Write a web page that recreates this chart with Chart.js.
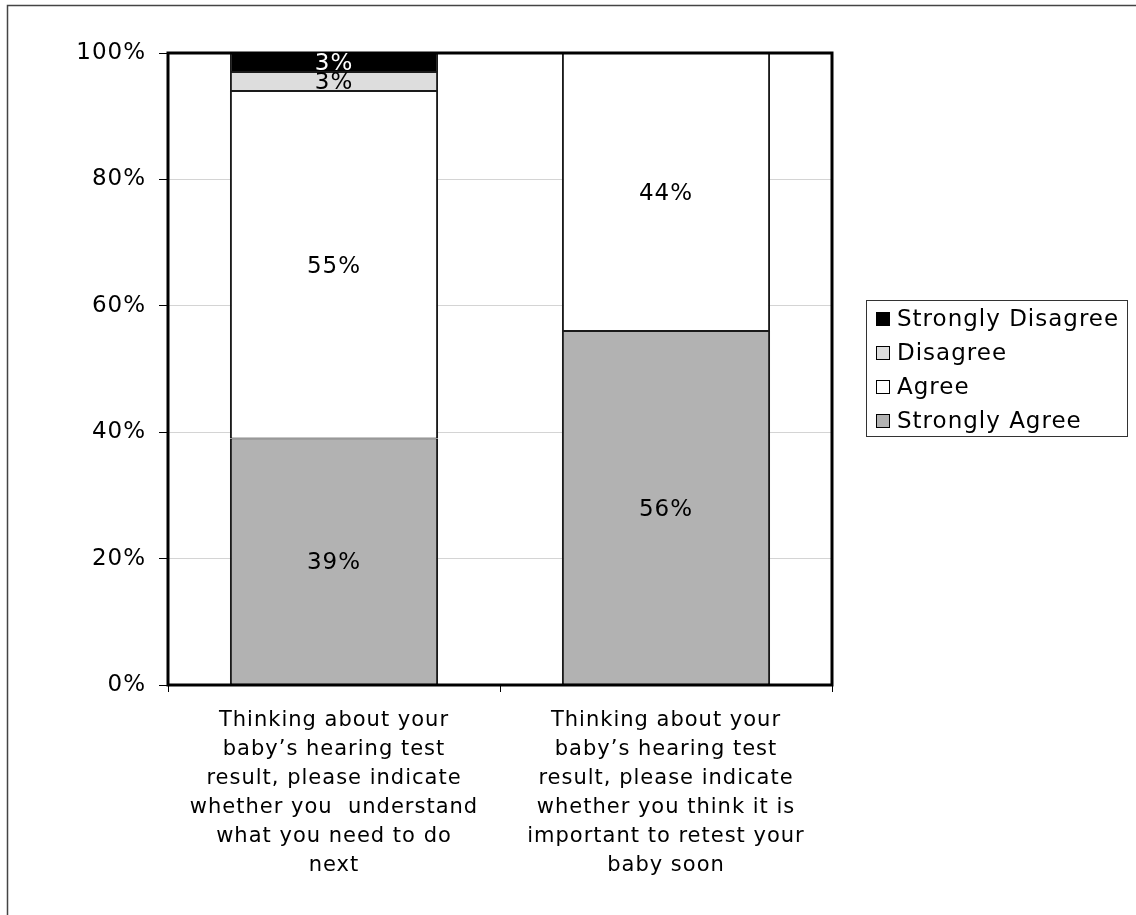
<!DOCTYPE html>
<html>
<head>
<meta charset="utf-8">
<title>Hearing test follow-up</title>
<script src="https://cdn.jsdelivr.net/npm/chart.js@4.4.1/dist/chart.umd.min.js"></script>
<style>
  html, body { margin: 0; padding: 0; background: #fff; }
  #wrap { width: 1136px; height: 915px; }
</style>
</head>
<body>
<div id="wrap"><canvas id="hearingChart" width="1136" height="915"></canvas></div>
<script>
// question text, one array per bar (each entry is a line)
const questions = [
    ['Thinking about your', 'baby\u2019s hearing test', 'result, please indicate', 'whether you  understand', 'what you need to do', 'next'],
    ['Thinking about your', 'baby\u2019s hearing test', 'result, please indicate', 'whether you think it is', 'important to retest your', 'baby soon']
];

// percentages per response, bottom to top
const stronglyAgree = [39, 56];
const agree = [55, 44];
const disagree = [3, 0];
const stronglyDisagree = [3, 0];

const yTicks = [0, 20, 40, 60, 80, 100];

const FONT = 'DejaVu Sans, Verdana, sans-serif';

// frame, plot box, segment labels and legend
const decorPlugin = {
    id: 'decor',
    beforeDraw(chart) {
        const ctx = chart.ctx;
        ctx.letterSpacing = '1px';
        ctx.save();
        ctx.fillStyle = '#fff';
        ctx.fillRect(0, 0, chart.width, chart.height);
        ctx.strokeStyle = '#444';
        ctx.lineWidth = 1.5;
        ctx.beginPath();
        ctx.moveTo(7.5, chart.height);
        ctx.lineTo(7.5, 5.5);
        ctx.lineTo(chart.width, 5.5);
        ctx.stroke();
        ctx.restore();
    },
    afterDatasetsDraw(chart) {
        const ctx = chart.ctx;
        const area = chart.chartArea;
        ctx.save();
        ctx.strokeStyle = '#000';
        ctx.lineWidth = 3;
        ctx.strokeRect(area.left, area.top, area.right - area.left, area.bottom - area.top);

        ctx.font = '23px ' + FONT;
        ctx.textAlign = 'center';
        ctx.textBaseline = 'middle';
        chart.data.datasets.forEach((ds, i) => {
            const meta = chart.getDatasetMeta(i);
            meta.data.forEach((bar, j) => {
                const v = ds.data[j];
                if (!v) return;
                ctx.fillStyle = ds.labelColor;
                ctx.fillText(v + '%', bar.x, (bar.y + bar.base) / 2 + 2);
            });
        });

        // legend, top entry first
        const lx = 866, ly = 300, lw = 261, lh = 136;
        ctx.strokeStyle = '#333';
        ctx.lineWidth = 1;
        ctx.strokeRect(lx + 0.5, ly + 0.5, lw, lh);
        ctx.font = '23px ' + FONT;
        ctx.textAlign = 'left';
        const items = chart.data.datasets.slice().reverse();
        items.forEach((ds, k) => {
            const cy = ly + 19 + k * 34;
            ctx.fillStyle = ds.backgroundColor;
            ctx.fillRect(876.5, cy - 6.5, 13, 13);
            ctx.strokeStyle = '#000';
            ctx.lineWidth = 1;
            ctx.strokeRect(876.5, cy - 6.5, 13, 13);
            ctx.fillStyle = '#000';
            ctx.fillText(ds.label, 897, cy + 1);
        });
        ctx.restore();
    }
};

const data = {
    labels: questions,
    datasets: [
        { label: 'Strongly Agree', data: stronglyAgree, backgroundColor: '#b2b2b2', labelColor: '#000' },
        { label: 'Agree', data: agree, backgroundColor: '#ffffff', labelColor: '#000' },
        { label: 'Disagree', data: disagree, backgroundColor: '#dddddd', labelColor: '#000' },
        { label: 'Strongly Disagree', data: stronglyDisagree, backgroundColor: '#000000', labelColor: '#fff' }
    ].map(ds => Object.assign(ds, {
        borderColor: '#1a1a1a',
        borderWidth: { top: 1, bottom: 1, left: 2, right: 2 },
        borderSkipped: false,
        categoryPercentage: 1,
        barPercentage: 0.627
    }))
};

const config = {
    type: 'bar',
    data: data,
    options: {
        responsive: false,
        animation: false,
        events: [],
        layout: { padding: { top: 53, right: 304, bottom: 0, left: 0 } },
        plugins: {
            legend: { display: false },
            tooltip: { enabled: false }
        },
        scales: {
            x: {
                stacked: true,
                offset: true,
                grid: { offset: true, drawOnChartArea: false, tickLength: 7, tickColor: '#000', lineWidth: 1 },
                border: { display: false },
                ticks: {
                    autoSkip: false,
                    maxRotation: 0,
                    padding: 14,
                    color: '#000',
                    font: { family: FONT, size: 21, lineHeight: '29px' }
                },
                afterFit(scale) { scale.height = 230; }
            },
            y: {
                stacked: true,
                min: 0,
                max: 100,
                afterBuildTicks(scale) { scale.ticks = yTicks.map(v => ({ value: v })); },
                grid: { color: '#d4d4d4', lineWidth: 1, tickLength: 9, tickColor: '#000' },
                border: { display: false },
                ticks: {
                    padding: 13,
                    color: '#000',
                    font: { family: FONT, size: 23 },
                    callback: v => v + '%'
                },
                afterFit(scale) { scale.width = 168; }
            }
        }
    },
    plugins: [decorPlugin]
};

new Chart(document.getElementById('hearingChart'), config);
</script>
</body>
</html>
